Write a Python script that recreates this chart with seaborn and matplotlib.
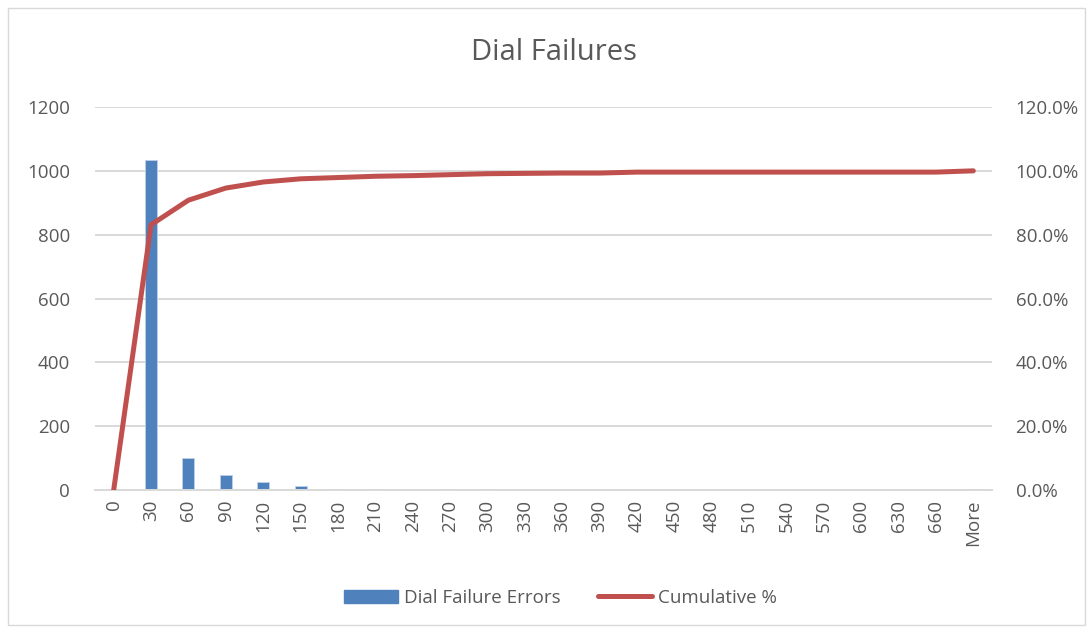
import matplotlib
matplotlib.use("Agg")
from matplotlib import pyplot as plt
from matplotlib.patches import Rectangle
from matplotlib.ticker import PercentFormatter, MultipleLocator
from matplotlib.lines import Line2D
import seaborn as sns
import pandas as pd
import numpy as np

# bins and counts
BINS = ["0", "30", "60", "90", "120", "150", "180", "210", "240", "270", "300", "330",
        "360", "390", "420", "450", "480", "510", "540", "570", "600", "630", "660", "More"]
COUNTS = [2, 1034, 100, 47, 24, 13, 2, 3, 0, 2, 2, 0,
          0, 0, 0, 0, 0, 0, 0, 0, 0, 0, 0, 2]
CUM_PCT = [0.0, 0.831, 0.908, 0.946, 0.965, 0.975, 0.979, 0.983, 0.985, 0.988, 0.991, 0.992,
           0.993, 0.993, 0.996, 0.996, 0.996, 0.996, 0.996, 0.996, 0.996, 0.996, 0.996, 1.0]

BAR_COLOR = "#4F81BD"
LINE_COLOR = "#C0504D"
TEXT = "#595959"
GRID = "#D9D9D9"
FS = 13.5

df = pd.DataFrame({"bin": BINS, "count": COUNTS, "cum": CUM_PCT})
df["pos"] = np.arange(len(df))

sns.set_style("white")
plt.rcParams["font.family"] = ["Open Sans", "DejaVu Sans"]

fig = plt.figure(figsize=(10.92, 6.31), dpi=100)
ax = fig.add_axes([95/1092, 1 - 490/631, (992 - 95)/1092, (490 - 107)/631])

sns.barplot(data=df, x="bin", y="count", color=BAR_COLOR, width=0.32,
            edgecolor="#BFD0E6", linewidth=0.6, saturation=1, ax=ax)
ax.set_ylim(0, 1200)
ax.yaxis.set_major_locator(MultipleLocator(200))
ax.set_xlim(-0.5, len(BINS) - 0.5)
ax.set_xlabel("")
ax.set_ylabel("")
ax.grid(axis="y", color=GRID, linewidth=1.4)
ax.set_axisbelow(True)
for s in ["top", "left", "right"]:
    ax.spines[s].set_visible(False)
ax.spines["bottom"].set_color(GRID)
ax.spines["bottom"].set_linewidth(1.4)
ax.tick_params(axis="x", rotation=90, labelsize=FS, labelcolor=TEXT, length=0, pad=7)
ax.tick_params(axis="y", labelsize=FS, labelcolor=TEXT, length=0, pad=18)

ax2 = ax.twinx()
sns.lineplot(data=df, x="pos", y="cum", color=LINE_COLOR, linewidth=3.6, ax=ax2,
             solid_capstyle="round", solid_joinstyle="round")
ax2.set_ylim(0, 1.2)
ax2.yaxis.set_major_locator(MultipleLocator(0.2))
ax2.yaxis.set_major_formatter(PercentFormatter(1.0, decimals=1))
ax2.set_xlim(-0.5, len(BINS) - 0.5)
ax2.set_ylabel("")
ax2.set_xlabel("")
for s in ax2.spines.values():
    s.set_visible(False)
ax2.tick_params(axis="y", labelsize=FS, labelcolor=TEXT, length=0, pad=17)
ax2.grid(False)

fig.text(554/1092, 1 - 52/631, "Dial Failures", ha="center", va="center",
         fontsize=21, color=TEXT)

handles = [Rectangle((0, 0), 1, 1, color=BAR_COLOR),
           Line2D([0], [0], color=LINE_COLOR, linewidth=3.6, solid_capstyle="round")]
fig.legend(handles, ["Dial Failure Errors", "Cumulative %"], loc="center",
           bbox_to_anchor=(560/1092, 1 - 598/631), ncol=2, frameon=False,
           fontsize=FS, labelcolor=TEXT, handlelength=2.9, handleheight=0.75,
           columnspacing=2.0, handletextpad=0.3)

fig.patches.append(Rectangle((8/1092, 6/631), 1077/1092, 617/631, transform=fig.transFigure,
                             fill=False, edgecolor=GRID, linewidth=1))

fig.savefig("out.png", dpi=100)
